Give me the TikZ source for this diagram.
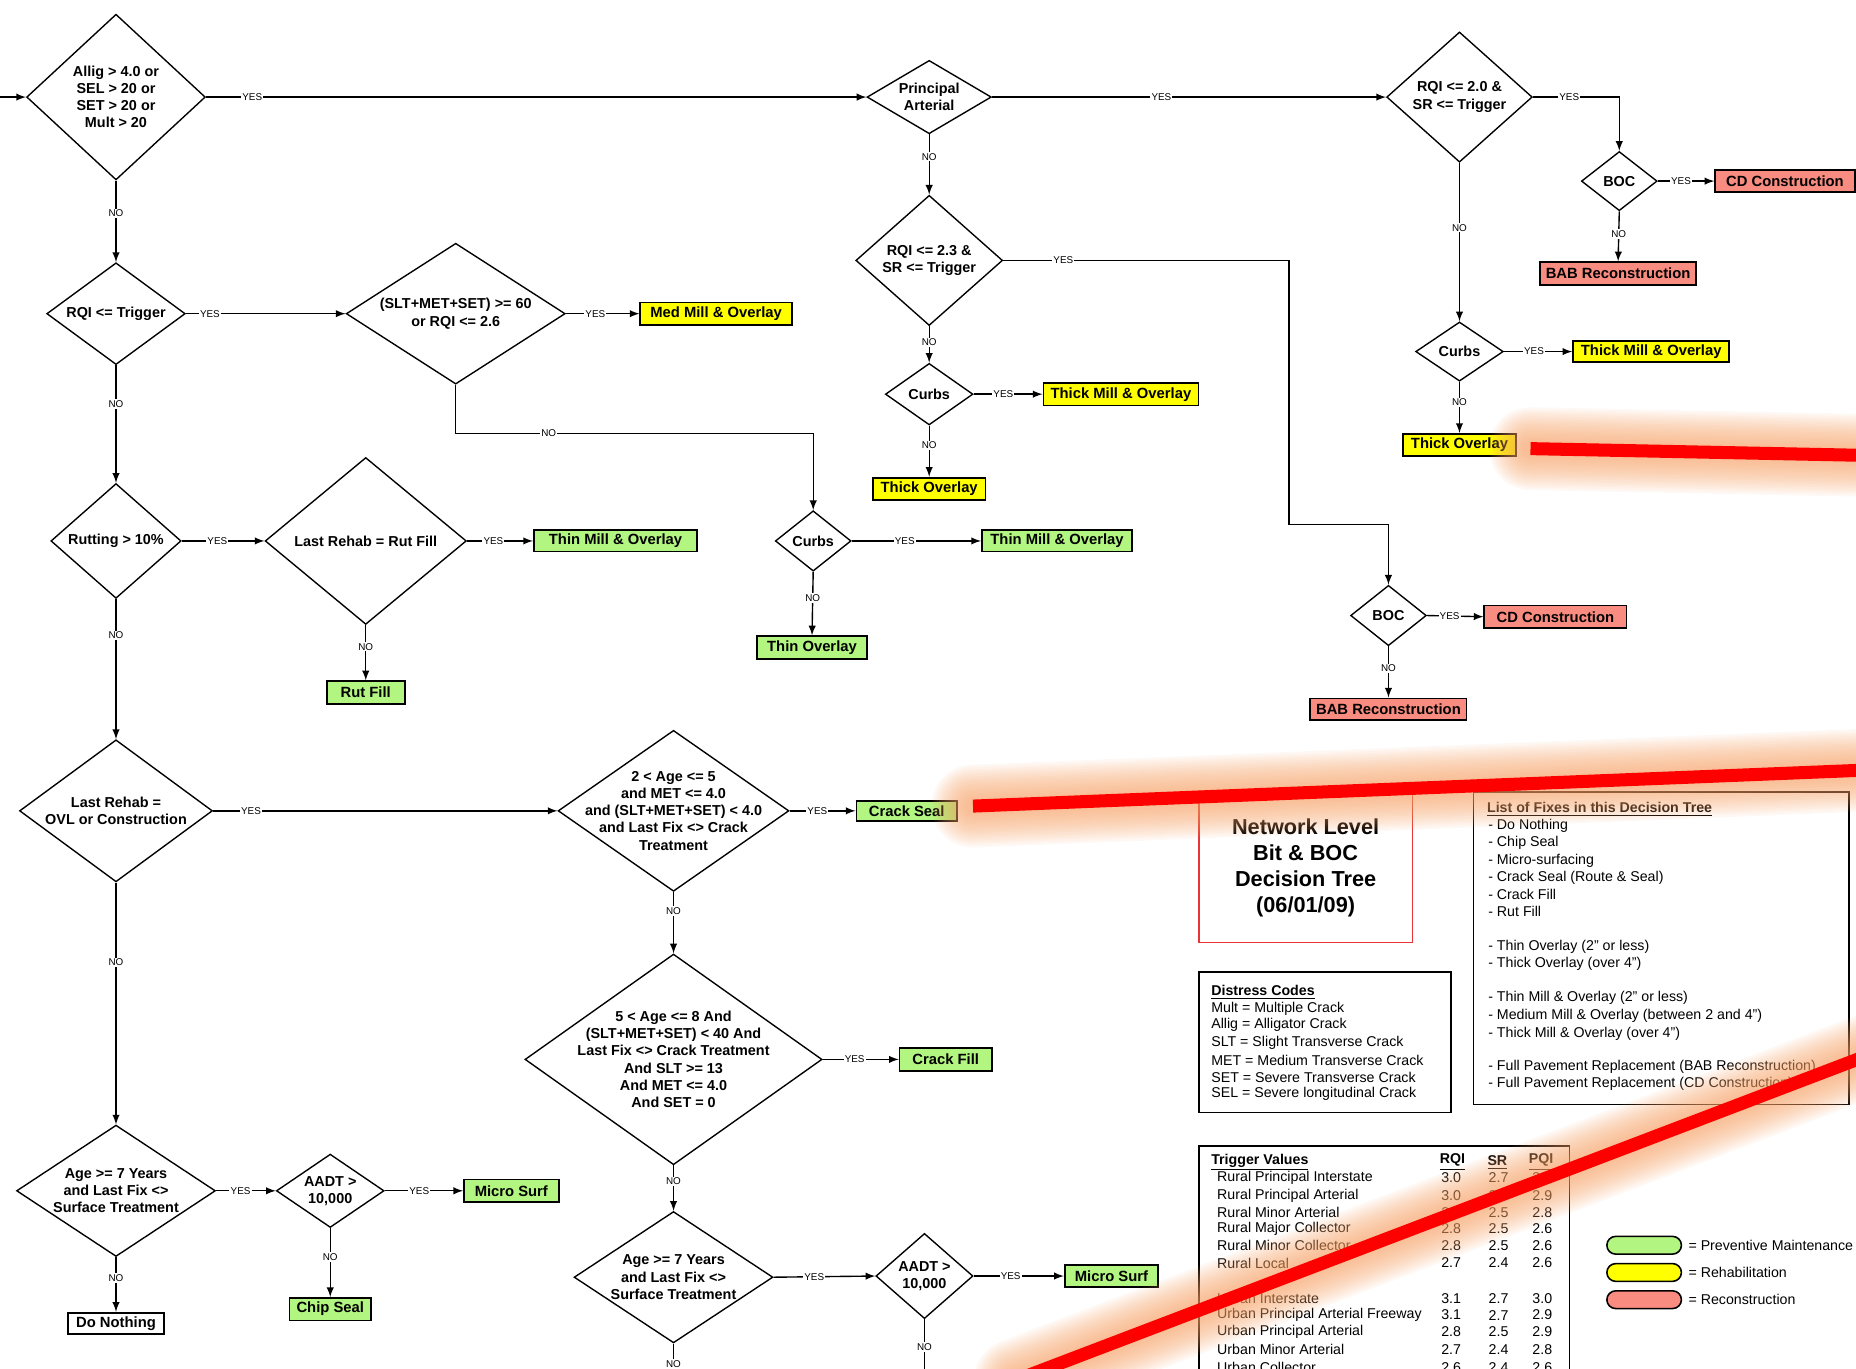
\documentclass[tikz,border=0pt]{standalone}
\usepackage{fontspec}
\setmainfont{Liberation Sans}
\usetikzlibrary{shapes.geometric, arrows, positioning}

\definecolor{pmgreen}{RGB}{178,245,128}
\definecolor{rhyellow}{RGB}{255,255,0}
\definecolor{rcsalmon}{RGB}{248,140,128}
\definecolor{glowc}{RGB}{246,160,100}
\definecolor{hired}{RGB}{255,0,0}
\definecolor{ttlred}{RGB}{232,52,52}

\tikzset{
  dia/.style 2 args={diamond, draw, line width=0.7pt, inner sep=0pt, minimum width=#1*0.6pt, minimum height=#2*0.6pt},
  dtxt/.style={font=\bfseries\fontsize{7.3}{8.7}\selectfont, align=center, inner sep=0pt},
  fix/.style 2 args={draw, line width=0.9pt, inner sep=0pt, minimum width=#1*0.6pt, minimum height=#2*0.6pt, font=\bfseries\fontsize{7.5}{9}\selectfont},
  flow/.style={line width=0.7pt, -latex},
  yn/.style={fill=white, inner sep=0.6pt, font=\fontsize{5}{5}\selectfont},
  ptxt/.style={anchor=west, inner sep=0pt, font=\fontsize{7.2}{8.7}\selectfont},
  vtxt/.style={inner sep=0pt, font=\fontsize{7.2}{8.7}\selectfont},
  panel/.style={draw, line width=0.8pt},
}

\begin{document}
\begin{tikzpicture}[x=0.6pt, y=-0.6pt]
\useasboundingbox (0,0) rectangle (1568,1156);
\clip (0,0) rectangle (1568,1156);

% decisions
\node[dia={151}{140}, label={[dtxt]center:{Allig > 4.0 or\\SEL > 20 or\\SET > 20 or\\Mult > 20}}] (d1) at (98,82) {};
\node[dia={117}{86}, label={[dtxt]center:{RQI <= Trigger}}] (d2) at (98,265) {};
\node[dia={185}{119}, label={[dtxt]center:{(SLT+MET+SET) >= 60\\or RQI <= 2.6}}] (d3) at (385,265) {};
\node[dia={110}{97}, label={[dtxt]center:{Rutting > 10\%}}] (d4) at (98,457) {};
\node[dia={170}{141}, label={[dtxt]center:{Last Rehab = Rut Fill}}] (d5) at (309,457) {};
\node[dia={163}{120}, label={[dtxt]center:{Last Rehab =\\OVL or Construction}}] (d6) at (98,685) {};
\node[dia={195}{136}, label={[dtxt]center:{2 < Age <= 5\\and MET <= 4.0\\and (SLT+MET+SET) < 4.0\\and Last Fix <> Crack\\Treatment}}] (d7) at (569,685) {};
\node[dia={168}{111}, label={[dtxt]center:{Age >= 7 Years\\and Last Fix <>\\Surface Treatment}}] (d8) at (98,1006) {};
\node[dia={91}{62}, label={[dtxt]center:{AADT >\\10,000}}] (aadt1) at (279,1006) {};
\node[dia={251}{178}, label={[dtxt]center:{5 < Age <= 8 And\\(SLT+MET+SET) < 40 And\\Last Fix <> Crack Treatment\\And SLT >= 13\\And MET <= 4.0\\And SET = 0}}] (d9) at (569,895) {};
\node[dia={168}{111}, label={[dtxt]center:{Age >= 7 Years\\and Last Fix <>\\Surface Treatment}}] (d10) at (569,1079) {};
\node[dia={82}{72}, label={[dtxt]center:{AADT >\\10,000}}] (aadt2) at (781,1078) {};
\node[dia={105}{62}, label={[dtxt]center:{Principal\\Arterial}}] (pa) at (785,82) {};
\node[dia={124}{110}, label={[dtxt]center:{RQI <= 2.3 \&\\SR <= Trigger}}] (rq23) at (785,220) {};
\node[dia={74}{52}, label={[dtxt]center:{Curbs}}] (curbs1) at (785,333) {};
\node[dia={64}{51}, label={[dtxt]center:{Curbs}}] (curbs2) at (687,457) {};
\node[dia={123}{110}, label={[dtxt]center:{RQI <= 2.0 \&\\SR <= Trigger}}] (rq20) at (1233,82) {};
\node[dia={64}{50}, label={[dtxt]center:{BOC}}] (boc1) at (1368,153) {};
\node[dia={74}{50}, label={[dtxt]center:{Curbs}}] (curbs3) at (1233,297) {};
\node[dia={64}{51}, label={[dtxt]center:{BOC}}] (boc2) at (1173,520) {};

% fixes
\node[fix={128}{19}, fill=rhyellow] (medmill) at (605,265) {Med Mill \& Overlay};
\node[fix={131}{19}, fill=rhyellow] (thickmill1) at (947,333) {Thick Mill \& Overlay};
\node[fix={95}{19}, fill=rhyellow] (thickov1) at (785,413) {Thick Overlay};
\node[fix={127}{18}, fill=pmgreen] (thinmill2) at (893,457) {Thin Mill \& Overlay};
\node[fix={93}{19}, fill=pmgreen] (thinov) at (686,547) {Thin Overlay};
\node[fix={138}{18}, fill=pmgreen] (thinmill1) at (520,457) {Thin Mill \& Overlay};
\node[fix={66}{19}, fill=pmgreen] (rutfill) at (309,585) {Rut Fill};
\node[fix={118}{19}, fill=rcsalmon] (cd1) at (1508,153) {CD Construction};
\node[fix={132}{19}, fill=rcsalmon] (bab1) at (1367,231) {BAB Reconstruction};
\node[fix={132}{18}, fill=rhyellow] (thickmill3) at (1395,297) {Thick Mill \& Overlay};
\node[fix={95}{19}, fill=rhyellow] (thickov3) at (1233,376) {Thick Overlay};
\node[fix={120}{19}, fill=rcsalmon] (cd2) at (1314,521) {CD Construction};
\node[fix={132}{18}, fill=rcsalmon] (bab2) at (1173,599) {BAB Reconstruction};
\node[fix={85}{17}, fill=pmgreen] (crackseal) at (766,685) {Crack Seal};
\node[fix={78}{19}, fill=pmgreen] (crackfill) at (799,895) {Crack Fill};
\node[fix={79}{18}, fill=pmgreen] (microsurf2) at (939,1078) {Micro Surf};
\node[fix={80}{19}, fill=pmgreen] (microsurf1) at (432,1006) {Micro Surf};
\node[fix={69}{19}, fill=pmgreen] (chipseal) at (279,1106) {Chip Seal};
\node[fix={81}{18}, fill=white] (donothing) at (98,1118) {Do Nothing};

% connectors
\coordinate (in) at (0,82);
\coordinate (j1) at (385,366);
\coordinate (j2) at (1089,443);
\coordinate (e1) at (569,1178);
\coordinate (e2) at (781,1178);
\draw[flow] (in) -- (d1.west);
\draw[flow] (d1.east) -- node[yn,pos=.07]{YES} (pa.west);
\draw[flow] (d1.south) -- node[yn,pos=.4]{NO} (d2.north);
\draw[flow] (d2.east) -- node[yn,pos=.15]{YES} (d3.west);
\draw[flow] (d2.south) -- node[yn,pos=.33]{NO} (d4.north);
\draw[flow] (d3.east) -- node[yn,pos=.4]{YES} (medmill.west);
\draw[flow] (d3.south) -- (j1) -- node[yn,pos=.26]{NO} (j1 -| curbs2) -- (curbs2.north);
\draw[flow] (pa.east) -- node[yn,pos=.43]{YES} (rq20.west);
\draw[flow] (pa.south) -- node[yn,pos=.37]{NO} (rq23.north);
\draw[flow] (rq23.east) -- node[yn,pos=.21]{YES} (rq23.east -| j2) -- (j2) -- (j2 -| boc2) -- (boc2.north);
\draw[flow] (rq23.south) -- node[yn,pos=.44]{NO} (curbs1.north);
\draw[flow] (curbs1.east) -- node[yn,pos=.43]{YES} (thickmill1.west);
\draw[flow] (curbs1.south) -- node[yn,pos=.39]{NO} (thickov1.north);
\draw[flow] (curbs2.east) -- node[yn,pos=.41]{YES} (thinmill2.west);
\draw[flow] (curbs2.south) -- node[yn,pos=.41]{NO} (thinov.north);
\draw[flow] (rq20.east) -| node[yn,pos=.21]{YES} (boc1.north);
\draw[flow] (rq20.south) -- node[yn,pos=.41]{NO} (curbs3.north);
\draw[flow] (boc1.east) -- node[yn,pos=.41]{YES} (cd1.west);
\draw[flow] (boc1.south) -- node[yn,pos=.45]{NO} (bab1.north);
\draw[flow] (curbs3.east) -- node[yn,pos=.44]{YES} (thickmill3.west);
\draw[flow] (curbs3.south) -- node[yn,pos=.4]{NO} (thickov3.north);
\draw[flow] (boc2.east) -- node[yn,pos=.4]{YES} (cd2.west);
\draw[flow] (boc2.south) -- node[yn,pos=.43]{NO} (bab2.north);
\draw[flow] (d4.east) -- node[yn,pos=.43]{YES} (d5.west);
\draw[flow] (d4.south) -- node[yn,pos=.26]{NO} (d6.north);
\draw[flow] (d5.east) -- node[yn,pos=.4]{YES} (thinmill1.west);
\draw[flow] (d5.south) -- node[yn,pos=.39]{NO} (rutfill.north);
\draw[flow] (d6.east) -- node[yn,pos=.11]{YES} (d7.west);
\draw[flow] (d6.south) -- node[yn,pos=.33]{NO} (d8.north);
\draw[flow] (d7.east) -- node[yn,pos=.42]{YES} (crackseal.west);
\draw[flow] (d7.south) -- node[yn,pos=.31]{NO} (d9.north);
\draw[flow] (d9.east) -- node[yn,pos=.42]{YES} (crackfill.west);
\draw[flow] (d9.south) -- node[yn,pos=.35]{NO} (d10.north);
\draw[flow] (d10.east) -- node[yn,pos=.4]{YES} (aadt2.west);
\draw[flow] (d10.south) -- node[yn,pos=.4]{NO} (e1);
\draw[flow] (aadt2.east) -- node[yn,pos=.41]{YES} (microsurf2.west);
\draw[flow] (aadt2.south) -- node[yn,pos=.37]{NO} (e2);
\draw[flow] (d8.east) -- node[yn,pos=.41]{YES} (aadt1.west);
\draw[flow] (d8.south) -- node[yn,pos=.38]{NO} (donothing.north);
\draw[flow] (aadt1.east) -- node[yn,pos=.44]{YES} (microsurf1.west);
\draw[flow] (aadt1.south) -- node[yn,pos=.42]{NO} (chipseal.north);

% title and side panels
\node[draw=ttlred, line width=0.6pt, minimum width=180*0.6pt, minimum height=126*0.6pt, align=center,
  font=\bfseries\fontsize{11}{13.2}\selectfont] (ttl) at (1103,733) {Network Level\\Bit \& BOC\\Decision Tree\\(06/01/09)};

\draw[panel] (1245,669) rectangle (1562,933);
\node[ptxt] (fixhead) at (1256,684) {\underline{\textbf{List of Fixes in this Decision Tree}}};
\foreach \y/\t in {698/Do Nothing, 712/Chip Seal, 727/Micro-surfacing, 742/Crack Seal (Route \& Seal),
  756/Crack Fill, 770/Rut Fill, 800/Thin Overlay (2" or less), 814/Thick Overlay (over 4"),
  843/Thin Mill \& Overlay (2" or less), 858/Medium Mill \& Overlay (between 2 and 4"),
  873/Thick Mill \& Overlay (over 4"), 901/Full Pavement Replacement (BAB Reconstruction),
  916/Full Pavement Replacement (CD Construction)}
  \node[ptxt] (fx\y) at (1257,\y) {- \t};

\draw[panel] (1013,821) rectangle (1226,940);
\node[ptxt] (codehead) at (1023,838) {\underline{\textbf{Distress Codes}}};
\foreach \y/\t in {852/Mult = Multiple Crack, 866/Allig = Alligator Crack, 881/SLT = Slight Transverse Crack,
  896/MET = Medium Transverse Crack, 910/SET = Severe Transverse Crack, 924/SEL = Severe longitudinal Crack}
  \node[ptxt] (dc\y) at (1023,\y) {\t};

\draw[panel] (1013,968) rectangle (1326,1200);
\node[ptxt] (trighead) at (1023,982) {\underline{\textbf{Trigger Values}}};
\node[vtxt] (hrqi) at (1227,982) {\underline{\textbf{RQI}}};
\node[vtxt] (hsr) at (1265,982) {\underline{\textbf{SR}}};
\node[vtxt] (hpqi) at (1302,982) {\underline{\textbf{PQI}}};
\foreach \y/\nm/\r/\s/\p in {995/Rural Principal Interstate/3.0/2.7/3.0, 1010/Rural Principal Arterial/3.0/2.7/2.9,
  1024/Rural Minor Arterial/2.8/2.5/2.8, 1038/Rural Major Collector/2.8/2.5/2.6,
  1052/Rural Minor Collector/2.8/2.5/2.6, 1067/Rural Local/2.7/2.4/2.6,
  1097/Urban Interstate/3.1/2.7/3.0, 1111/Urban Principal Arterial Freeway/3.1/2.7/2.9,
  1125/Urban Principal Arterial/2.8/2.5/2.9, 1140/Urban Minor Arterial/2.7/2.4/2.8,
  1155/Urban Collector/2.6/2.4/2.6}
{
  \node[ptxt] (tn\y) at (1028,\y) {\nm};
  \node[vtxt] (tr\y) at (1226,\y) {\r};
  \node[vtxt] (ts\y) at (1266,\y) {\s};
  \node[vtxt] (tp\y) at (1303,\y) {\p};
}

% legend
\foreach \c/\t/\y in {pmgreen/Preventive Maintenance/1052, rhyellow/Rehabilitation/1075, rcsalmon/Reconstruction/1098}
{
  \node[draw, fill=\c, line width=0.8pt, rounded corners=4.5pt, minimum width=63*0.6pt, minimum height=15*0.6pt] (lg\y) at (1389,\y) {};
  \node[ptxt, right=3pt of lg\y] (lt\y) {= \t};
}

% red marks with glow
\coordinate (ra1) at (1293,379);
\coordinate (ra2) at (1590,385);
\coordinate (rb1) at (822,681);
\coordinate (rb2) at (1590,650);
\coordinate (rc1) at (858,1166);
\coordinate (rc2) at (1590,887);
\foreach \w in {70,66,...,14}
  \foreach \a/\b in {ra1/ra2, rb1/rb2, rc1/rc2}
    \draw[glowc, line width=\w*0.6pt, opacity=0.07, line cap=round] (\a) -- (\b);
\foreach \a/\b in {ra1/ra2, rb1/rb2, rc1/rc2}
  \draw[hired, line width=6.6pt] (\a) -- (\b);

\end{tikzpicture}
\end{document}
